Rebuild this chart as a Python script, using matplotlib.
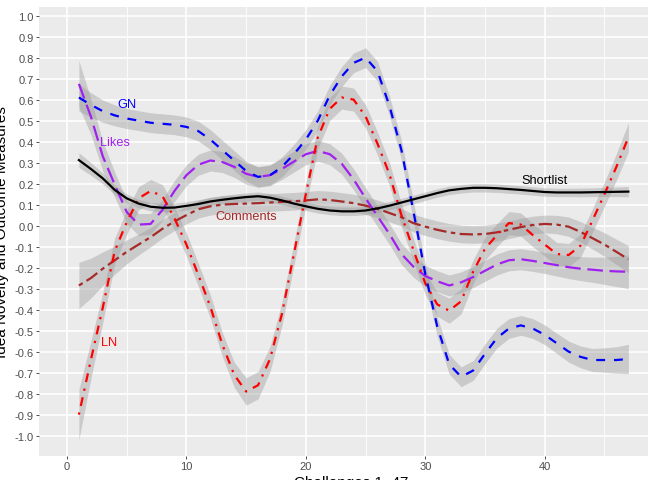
import numpy as np
import matplotlib
matplotlib.use("Agg")
from matplotlib import pyplot as plt

plt.rcParams['font.family'] = ['Liberation Sans', 'DejaVu Sans']

# challenges 1..47
challenge = list(range(1, 48))

# smoothed curves
gn = [0.61, 0.575, 0.545, 0.525, 0.51, 0.50, 0.49, 0.485, 0.48, 0.47,
      0.45, 0.41, 0.36, 0.31, 0.26, 0.232, 0.24, 0.28, 0.34, 0.41,
      0.50, 0.62, 0.71, 0.775, 0.80, 0.735, 0.57, 0.36, 0.07, -0.23,
      -0.48, -0.66, -0.72, -0.69, -0.61, -0.535, -0.49, -0.475, -0.49, -0.52,
      -0.56, -0.60, -0.625, -0.64, -0.64, -0.64, -0.635]
ln = [-0.90, -0.64, -0.39, -0.12, 0.015, 0.13, 0.165, 0.14, 0.035, -0.09,
      -0.235, -0.385, -0.565, -0.71, -0.79, -0.76, -0.635, -0.42, -0.135, 0.15,
      0.42, 0.556, 0.61, 0.60, 0.52, 0.39, 0.245, 0.05, -0.115, -0.275,
      -0.375, -0.405, -0.36, -0.22, -0.11, -0.045, 0.012, 0.005, -0.045, -0.09,
      -0.135, -0.14, -0.095, 0.025, 0.15, 0.28, 0.42]
likes = [0.675, 0.52, 0.33, 0.195, 0.065, 0.005, 0.008, 0.075, 0.165, 0.24,
         0.29, 0.31, 0.303, 0.28, 0.247, 0.232, 0.24, 0.27, 0.305, 0.34,
         0.356, 0.34, 0.295, 0.22, 0.13, 0.045, -0.04, -0.135, -0.195, -0.24,
         -0.265, -0.285, -0.27, -0.245, -0.215, -0.185, -0.165, -0.16, -0.168, -0.178,
         -0.188, -0.198, -0.205, -0.21, -0.215, -0.218, -0.22]
comments = [-0.285, -0.25, -0.205, -0.165, -0.125, -0.09, -0.055, -0.015, 0.02, 0.05,
            0.078, 0.092, 0.10, 0.103, 0.105, 0.107, 0.11, 0.113, 0.116, 0.12,
            0.125, 0.122, 0.115, 0.107, 0.095, 0.08, 0.06, 0.04, 0.012, -0.005,
            -0.02, -0.032, -0.04, -0.042, -0.04, -0.032, -0.02, -0.007, 0.003, 0.008,
            0.005, -0.005, -0.03, -0.06, -0.09, -0.125, -0.16]
shortlist = [0.312, 0.27, 0.225, 0.17, 0.13, 0.105, 0.09, 0.085, 0.086, 0.094,
             0.103, 0.115, 0.123, 0.13, 0.136, 0.14, 0.133, 0.12, 0.105, 0.092,
             0.08, 0.072, 0.068, 0.068, 0.072, 0.082, 0.095, 0.11, 0.125, 0.14,
             0.155, 0.168, 0.175, 0.18, 0.18, 0.178, 0.174, 0.17, 0.165, 0.16,
             0.158, 0.158, 0.158, 0.159, 0.16, 0.161, 0.162]

# half widths of the grey confidence bands
gn_band = [0.065, 0.058, 0.053, 0.05, 0.048, 0.047, 0.047, 0.047, 0.047, 0.047,
           0.047, 0.047, 0.047, 0.047, 0.047, 0.047, 0.047, 0.047, 0.047, 0.047,
           0.047, 0.047, 0.047, 0.047, 0.047, 0.047, 0.047, 0.047, 0.047, 0.047,
           0.047, 0.047, 0.047, 0.047, 0.047, 0.047, 0.047, 0.047, 0.047, 0.047,
           0.048, 0.05, 0.052, 0.055, 0.058, 0.063, 0.07]
ln_band = [0.12, 0.09, 0.072, 0.062, 0.057, 0.055, 0.055, 0.055, 0.055, 0.055,
           0.055, 0.055, 0.057, 0.06, 0.065, 0.065, 0.06, 0.057, 0.055, 0.055,
           0.055, 0.055, 0.055, 0.055, 0.055, 0.055, 0.055, 0.055, 0.055, 0.055,
           0.057, 0.06, 0.06, 0.057, 0.055, 0.055, 0.055, 0.055, 0.055, 0.055,
           0.055, 0.055, 0.055, 0.056, 0.058, 0.063, 0.07]
likes_band = [0.11, 0.085, 0.07, 0.06, 0.055, 0.052, 0.05, 0.05, 0.05, 0.05,
              0.05, 0.05, 0.05, 0.05, 0.05, 0.05, 0.05, 0.05, 0.05, 0.05,
              0.05, 0.05, 0.05, 0.05, 0.05, 0.05, 0.05, 0.05, 0.05, 0.05,
              0.05, 0.05, 0.05, 0.05, 0.05, 0.05, 0.05, 0.05, 0.05, 0.05,
              0.052, 0.054, 0.057, 0.06, 0.065, 0.072, 0.08]
comments_band = [0.11, 0.095, 0.08, 0.067, 0.057, 0.05, 0.046, 0.044, 0.043, 0.042,
                 0.042, 0.042, 0.042, 0.042, 0.042, 0.042, 0.042, 0.042, 0.042, 0.042,
                 0.042, 0.042, 0.042, 0.042, 0.042, 0.042, 0.042, 0.042, 0.042, 0.042,
                 0.042, 0.042, 0.042, 0.042, 0.042, 0.042, 0.042, 0.042, 0.042, 0.042,
                 0.044, 0.046, 0.049, 0.052, 0.056, 0.06, 0.065]
shortlist_band = [0.035, 0.03, 0.026, 0.023, 0.021, 0.02, 0.02, 0.02, 0.02, 0.02,
                  0.02, 0.02, 0.02, 0.02, 0.02, 0.02, 0.02, 0.02, 0.02, 0.02,
                  0.02, 0.02, 0.02, 0.02, 0.02, 0.02, 0.02, 0.02, 0.02, 0.02,
                  0.02, 0.02, 0.02, 0.02, 0.02, 0.02, 0.02, 0.02, 0.02, 0.02,
                  0.02, 0.02, 0.021, 0.021, 0.022, 0.023, 0.025]

x_ticks = [0, 10, 20, 30, 40]
y_ticks = [round(v / 10, 1) for v in range(-10, 11)]

fig = plt.figure(figsize=(6.48, 4.81), dpi=100)
ax = fig.add_axes([39 / 648, 24 / 481, 624 / 648, 449 / 481])
ax.set_facecolor('#EBEBEB')
for s in ax.spines.values():
    s.set_visible(False)

# (values, band, colour, linestyle, label, label x, label y)
layers = [
    (comments, comments_band, '#A52A2A', (0, (2, 2, 6, 2)), 'Comments', 15.0, 0.048),
    (likes, likes_band, '#A020F0', (0, (7, 3)), 'Likes', 4.0, 0.40),
    (ln, ln_band, '#FF0000', (0, (1, 3, 4, 3)), 'LN', 3.5, -0.552),
    (gn, gn_band, '#0000FF', (0, (4, 4)), 'GN', 5.0, 0.58),
    (shortlist, shortlist_band, '#000000', '-', 'Shortlist', 40.0, 0.218),
]

x = np.array(challenge)
for vals, band, col, ls, name, tx, ty in layers:
    v = np.array(vals)
    b = np.array(band)
    ax.fill_between(x, v - b, v + b, color='#999999', alpha=0.4, lw=0, zorder=2)
    ax.plot(x, v, color=col, lw=1.6, linestyle=ls, zorder=3)
    ax.text(tx, ty, name, color=col, fontsize=9.2, ha='center', va='center', zorder=4)

ax.set_xlim(-2.34, 49.9)
ax.set_ylim(-1.097, 1.041)
ax.set_xticks(x_ticks)
ax.set_xticks([5, 15, 25, 35, 45], minor=True)
ax.set_yticks(y_ticks)
ax.set_yticklabels(['%.1f' % v if v != 0 else '0.0' for v in y_ticks])
ax.grid(which='major', color='white', lw=1.2)
ax.grid(which='minor', axis='x', color='white', lw=0.6)
ax.set_axisbelow(True)
ax.tick_params(which='minor', length=0)
ax.tick_params(which='major', length=2.2, width=0.6, color='#333333',
               labelcolor='#4D4D4D', labelsize=8, pad=1.5)

# axis titles sit partly outside the figure, as in the source image
fig.text(2 / 648, 1 - 232.5 / 481, 'Idea Novelty and Outcome Measures', rotation=90,
         ha='center', va='center', fontsize=11)
fig.text(351 / 648, 1 - 476.5 / 481, 'Challenges 1\u201347', ha='center', va='top', fontsize=11)

fig.savefig('out.png', dpi=100)
